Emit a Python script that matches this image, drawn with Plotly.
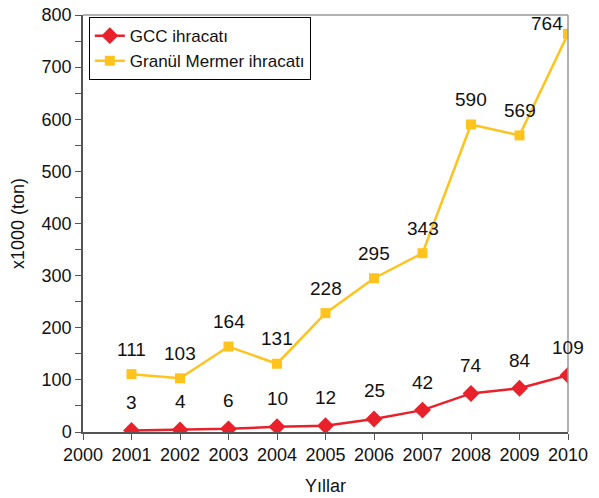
import plotly.graph_objects as go

years = [2001, 2002, 2003, 2004, 2005, 2006, 2007, 2008, 2009, 2010]
gcc = [3, 4, 6, 10, 12, 25, 42, 74, 84, 109]
granul = [111, 103, 164, 131, 228, 295, 343, 590, 569, 764]
x_ticks = list(range(2000, 2011))

red = "#E8212B"
gold = "#FFC31E"
font_family = "Liberation Sans"

fig = go.Figure()
fig.add_trace(go.Scatter(x=years, y=gcc, mode="lines+markers", name="GCC ihracatı",
                         line=dict(color=red, width=2.5),
                         marker=dict(symbol="diamond", size=13, color=red)))
fig.add_trace(go.Scatter(x=years, y=granul, mode="lines+markers", name="Granül Mermer ihracatı",
                         line=dict(color=gold, width=2.5),
                         marker=dict(symbol="square", size=10, color=gold)))

annotations = []
for x, v in zip(years, gcc):
    annotations.append(dict(x=x, y=v, text=str(v), showarrow=False, yshift=28,
                            font=dict(size=19, color="#111", family=font_family)))
for x, v in zip(years, granul):
    xs = -21 if x == 2010 else 0
    ys = 10 if x == 2010 else 25
    annotations.append(dict(x=x, y=v, text=str(v), showarrow=False, yshift=ys, xshift=xs,
                            font=dict(size=19, color="#111", family=font_family)))

fig.update_layout(
    width=599, height=498,
    margin=dict(l=83, r=31, t=15, b=66, autoexpand=False),
    paper_bgcolor="white", plot_bgcolor="white",
    font=dict(family=font_family, size=17, color="#111"),
    showlegend=True,
    legend=dict(x=0.012, y=0.995, xanchor="left", yanchor="top",
                bordercolor="black", borderwidth=1, bgcolor="white",
                font=dict(size=17, family=font_family), tracegroupgap=0,
                itemwidth=30),
    annotations=annotations,
    xaxis=dict(range=[2000, 2010], tickvals=x_ticks, ticktext=[str(t) for t in x_ticks],
               showgrid=False, zeroline=False, showline=True, linecolor="#555", linewidth=1.5,
               mirror=False, ticks="outside", ticklen=6, tickcolor="#555",
               tickfont=dict(size=18),
               title=dict(text="Yıllar", font=dict(size=18), standoff=15)),
    yaxis=dict(range=[0, 800], tickvals=list(range(0, 801, 100)),
               showgrid=False, zeroline=False, showline=True, linecolor="#555", linewidth=1.5,
               ticks="outside", ticklen=6, tickcolor="#555",
               minor=dict(tickvals=list(range(50, 800, 100)), ticks="outside", ticklen=6, tickcolor="#555"),
               tickfont=dict(size=18),
               title=dict(text="x1000 (ton)", font=dict(size=18), standoff=12)),
    shapes=[
        dict(type="line", xref="paper", yref="paper", x0=0, x1=1, y0=1, y1=1, line=dict(color="#999", width=1.5)),
        dict(type="line", xref="paper", yref="paper", x0=1, x1=1, y0=0, y1=1, line=dict(color="#999", width=1.5)),
    ],
)

fig.write_html("out.html", config={"displayModeBar": False},
               post_script="document.body.style.margin='0';")
